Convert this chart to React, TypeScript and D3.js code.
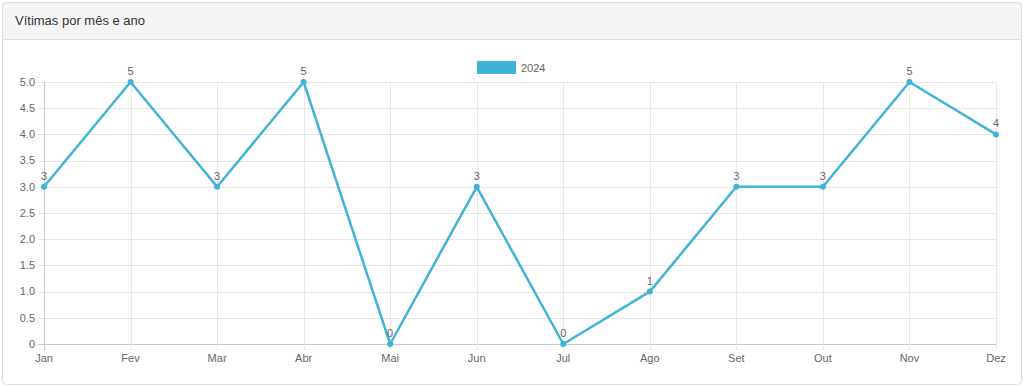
import { useEffect, useRef } from 'react'
import * as d3 from 'd3'

const months = ['Jan', 'Fev', 'Mar', 'Abr', 'Mai', 'Jun', 'Jul', 'Ago', 'Set', 'Out', 'Nov', 'Dez']
const victims2024 = [3, 5, 3, 5, 0, 3, 0, 1, 3, 3, 5, 4]
const yTicks = [0, 0.5, 1, 1.5, 2, 2.5, 3, 3.5, 4, 4.5, 5]
const seriesLabel = '2024'
const title = 'Vítimas por mês e ano'

const W = 1024
const H = 387
const COLOR = '#41b3d6'

export default function App() {
  const ref = useRef<SVGSVGElement>(null)

  useEffect(() => {
    const svg = d3.select(ref.current)
    svg.selectAll('*').remove()
    const font = 'Helvetica, Arial, "Liberation Sans", sans-serif'

    // panel
    svg.append('rect')
      .attr('x', 2.5).attr('y', 2.5).attr('width', 1019).attr('height', 382)
      .attr('rx', 4).attr('fill', '#fff').attr('stroke', '#ddd')
    svg.append('path')
      .attr('d', 'M2.5,39.5 L2.5,6.5 Q2.5,2.5 6.5,2.5 L1017.5,2.5 Q1021.5,2.5 1021.5,6.5 L1021.5,39.5 Z')
      .attr('fill', '#f5f5f5').attr('stroke', '#ddd')
    svg.append('text')
      .attr('x', 15).attr('y', 25)
      .style('font-family', font).style('font-size', '13px').attr('fill', '#333')
      .text(title)

    const x = d3.scalePoint<string>().domain(months).range([44, 996])
    const y = d3.scaleLinear().domain([0, 5]).range([344, 82])

    const g = svg.append('g')

    // grid
    g.selectAll('line.hg').data(yTicks).enter().append('line')
      .attr('x1', 38).attr('x2', 996)
      .attr('y1', d => Math.round(y(d)) + 0.5).attr('y2', d => Math.round(y(d)) + 0.5)
      .attr('stroke', d => (d === 0 ? '#c8c8c8' : '#e6e6e6'))
    g.selectAll('line.vg').data(months).enter().append('line')
      .attr('x1', d => Math.round(x(d)!) + 0.5).attr('x2', d => Math.round(x(d)!) + 0.5)
      .attr('y1', 82).attr('y2', 350)
      .attr('stroke', (d, i) => (i === 0 ? '#c8c8c8' : '#e6e6e6'))

    // y tick labels
    g.selectAll('text.yt').data(yTicks).enter().append('text')
      .attr('x', 35).attr('y', d => y(d)).attr('dy', '0.35em')
      .attr('text-anchor', 'end')
      .style('font-family', font).style('font-size', '11px').attr('fill', '#666')
      .text(d => (d === 0 ? '0' : d.toFixed(1)))

    // x tick labels
    g.selectAll('text.xt').data(months).enter().append('text')
      .attr('x', d => x(d)!).attr('y', 358).attr('dy', '0.35em')
      .attr('text-anchor', 'middle')
      .style('font-family', font).style('font-size', '11px').attr('fill', '#666')
      .text(d => d)

    // line
    const line = d3.line<number>()
      .x((d, i) => x(months[i])!)
      .y(d => y(d))
    g.append('path').datum(victims2024)
      .attr('d', line).attr('fill', 'none')
      .attr('stroke', COLOR).attr('stroke-width', 2.5).attr('stroke-linejoin', 'round')

    g.selectAll('circle').data(victims2024).enter().append('circle')
      .attr('cx', (d, i) => x(months[i])!).attr('cy', d => y(d)).attr('r', 3)
      .attr('fill', COLOR)

    g.selectAll('text.lbl').data(victims2024).enter().append('text')
      .attr('x', (d, i) => x(months[i])!).attr('y', d => y(d) - 7)
      .attr('text-anchor', 'middle')
      .style('font-family', font).style('font-size', '11px').attr('fill', '#666')
      .text(d => d)

    // legend
    svg.append('rect').attr('x', 477).attr('y', 61).attr('width', 39).attr('height', 13).attr('fill', COLOR)
    svg.append('text').attr('x', 521).attr('y', 68).attr('dy', '0.35em')
      .style('font-family', font).style('font-size', '11px').attr('fill', '#666')
      .text(seriesLabel)
  }, [])

  return <svg ref={ref} width={W} height={H} style={{ position: 'absolute', left: 0, top: 0 }} />
}
